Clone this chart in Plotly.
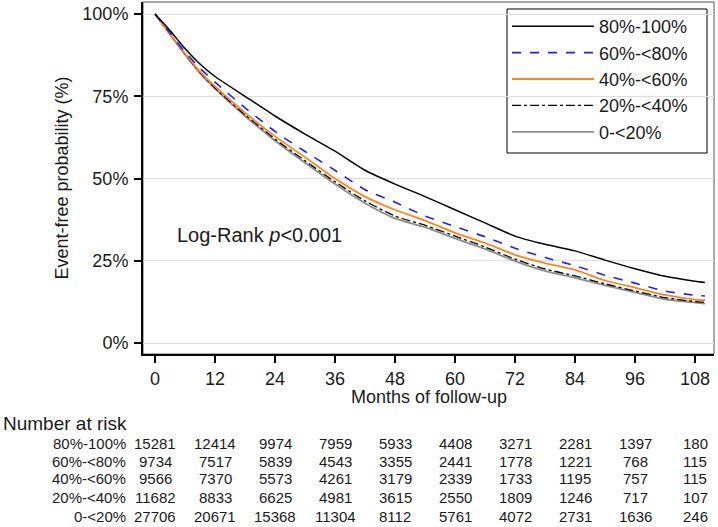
import plotly.graph_objects as go

# ---- data ----
months = [0, 3, 6, 9, 12, 18, 24, 30, 36, 42, 48, 54, 60, 66, 72, 78, 84, 90, 96, 102, 108, 110]
s_80_100 = [100, 95.0, 89.5, 84.8, 81.0, 75.0, 69.0, 63.5, 58.3, 52.5, 48.3, 44.5, 40.5, 36.5, 32.5, 30.0, 28.0, 25.2, 22.6, 20.3, 18.8, 18.4]
s_60_80 = [100, 94.3, 88.5, 83.5, 79.3, 71.5, 64.3, 58.2, 52.5, 46.6, 42.8, 38.6, 35.4, 32.3, 28.8, 26.0, 23.5, 20.6, 18.2, 15.8, 14.5, 14.3]
s_40_60 = [100, 94.0, 88.0, 82.5, 78.0, 70.0, 62.8, 56.5, 50.0, 44.5, 40.5, 37.2, 33.5, 30.4, 26.8, 24.3, 22.2, 19.0, 16.8, 14.6, 13.2, 13.0]
s_20_40 = [100, 93.9, 87.8, 82.2, 77.5, 69.4, 62.0, 55.4, 49.0, 43.2, 38.6, 35.8, 32.5, 29.2, 25.5, 22.5, 20.4, 18.0, 15.8, 13.8, 12.6, 12.4]
s_0_20 = [100, 93.8, 87.7, 82.0, 77.3, 69.0, 61.5, 54.8, 48.3, 42.5, 37.9, 35.2, 31.8, 28.6, 24.9, 21.9, 19.8, 17.5, 15.4, 13.3, 12.3, 12.0]

group_names = ["80%-100%", "60%-<80%", "40%-<60%", "20%-<40%", "0-<20%"]
risk_times = [0, 12, 24, 36, 48, 60, 72, 84, 96, 108]
risk_80_100 = [15281, 12414, 9974, 7959, 5933, 4408, 3271, 2281, 1397, 180]
risk_60_80 = [9734, 7517, 5839, 4543, 3355, 2441, 1778, 1221, 768, 115]
risk_40_60 = [9566, 7370, 5573, 4261, 3179, 2339, 1733, 1195, 757, 115]
risk_20_40 = [11682, 8833, 6625, 4981, 3615, 2550, 1809, 1246, 717, 107]
risk_0_20 = [27706, 20671, 15368, 11304, 8112, 5761, 4072, 2731, 1636, 246]
x_ticks = [0, 12, 24, 36, 48, 60, 72, 84, 96, 108]
y_ticks = [0, 25, 50, 75, 100]
y_tick_labels = ["0%", "25%", "50%", "75%", "100%"]

FONT = "Liberation Sans, Arial, sans-serif"
TXT = "#1a1a1a"

series = [s_80_100, s_60_80, s_40_60, s_20_40, s_0_20]
risks = [risk_80_100, risk_60_80, risk_40_60, risk_20_40, risk_0_20]
styles = [
    dict(color="#000000", width=1.5, dash="solid"),
    dict(color="#1f1fff", width=1.6, dash="dash"),
    dict(color="#ff8519", width=1.8, dash="solid"),
    dict(color="#000000", width=1.3, dash="dashdot"),
    dict(color="#8c8c8c", width=1.8, dash="solid"),
]

fig = go.Figure()
for i in [4, 3, 2, 1, 0]:  # black drawn last (on top)
    fig.add_trace(go.Scatter(
        x=months, y=series[i], mode="lines", name=group_names[i],
        line=dict(shape="spline", smoothing=0.6, **styles[i]),
        legendrank=i + 1,
    ))

H = 527
top_px, bot_px = 2, 354
ph = bot_px - top_px
def py(pix):
    return (bot_px - pix) / ph

left_px, right_px = 143, 714
pw = right_px - left_px
def px(pix):
    return (pix - left_px) / pw

ann = []
ann.append(dict(text="Months of follow-up", xref="paper", yref="paper", x=0.5, y=py(397),
                xanchor="center", yanchor="middle", showarrow=False, font=dict(size=18, family=FONT, color=TXT)))
ann.append(dict(text="Log-Rank <i>p</i>&lt;0.001", xref="x", yref="y", x=4, y=32.8,
                xanchor="left", yanchor="middle", showarrow=False, font=dict(size=20, family=FONT, color=TXT)))
ann.append(dict(text="Number at risk", xref="paper", yref="paper", x=px(1), y=py(424),
                xanchor="left", yanchor="middle", showarrow=False, font=dict(size=19, family=FONT, color=TXT)))
row_y = [443, 461, 479, 497, 516]
for r in range(5):
    ann.append(dict(text=group_names[r], xref="paper", yref="paper", x=px(128), y=py(row_y[r]),
                    xanchor="right", yanchor="middle", showarrow=False, font=dict(size=15, family=FONT, color=TXT)))
    for t, v in zip(risk_times, risks[r]):
        ann.append(dict(text=str(v), xref="x", yref="paper", x=t, y=py(row_y[r]),
                        xanchor="center", yanchor="middle", showarrow=False, font=dict(size=15, family=FONT, color=TXT)))

fig.update_layout(
    width=718, height=H,
    margin=dict(l=left_px, r=718 - right_px, t=top_px, b=H - bot_px),
    paper_bgcolor="white", plot_bgcolor="white",
    font=dict(family=FONT, size=18, color=TXT),
    showlegend=True,
    legend=dict(x=px(507), y=py(8), xanchor="left", yanchor="top",
                borderwidth=0, bgcolor="rgba(0,0,0,0)",
                font=dict(size=18, family=FONT, color=TXT), itemwidth=82,
                traceorder="normal"),
    annotations=ann,
    shapes=[
        dict(type="rect", xref="paper", yref="paper", x0=0, x1=1, y0=0, y1=1,
             line=dict(color="#555555", width=1), layer="below"),
        # legend frame
        dict(type="rect", xref="paper", yref="paper", x0=px(507), x1=px(707), y0=py(153), y1=py(9),
             line=dict(color="#000000", width=1), fillcolor="white", layer="below"),
    ],
)
fig.update_xaxes(range=[-2.4, 111.8], tickvals=x_ticks, ticks="outside", ticklen=7, tickwidth=1.5,
                 tickcolor="#000", showline=True, linecolor="#000", linewidth=2, showgrid=False,
                 zeroline=False, ticklabelstandoff=0, tickfont=dict(size=18, family=FONT, color=TXT))
fig.update_yaxes(range=[-3.34, 103.65], tickvals=y_ticks, ticktext=y_tick_labels, ticks="outside",
                 ticklen=7, tickwidth=1.5, tickcolor="#000", showline=True, linecolor="#000", linewidth=2,
                 showgrid=True, gridcolor="#dedede", gridwidth=1.2, zeroline=False, ticklabelstandoff=2,
                 tickfont=dict(size=18, family=FONT, color=TXT),
                 title=dict(text="Event-free probability (%)", font=dict(size=18, family=FONT, color=TXT), standoff=9))

fig.write_html("out.html", post_script="document.body.style.margin='0';",
               config={"displayModeBar": False})
